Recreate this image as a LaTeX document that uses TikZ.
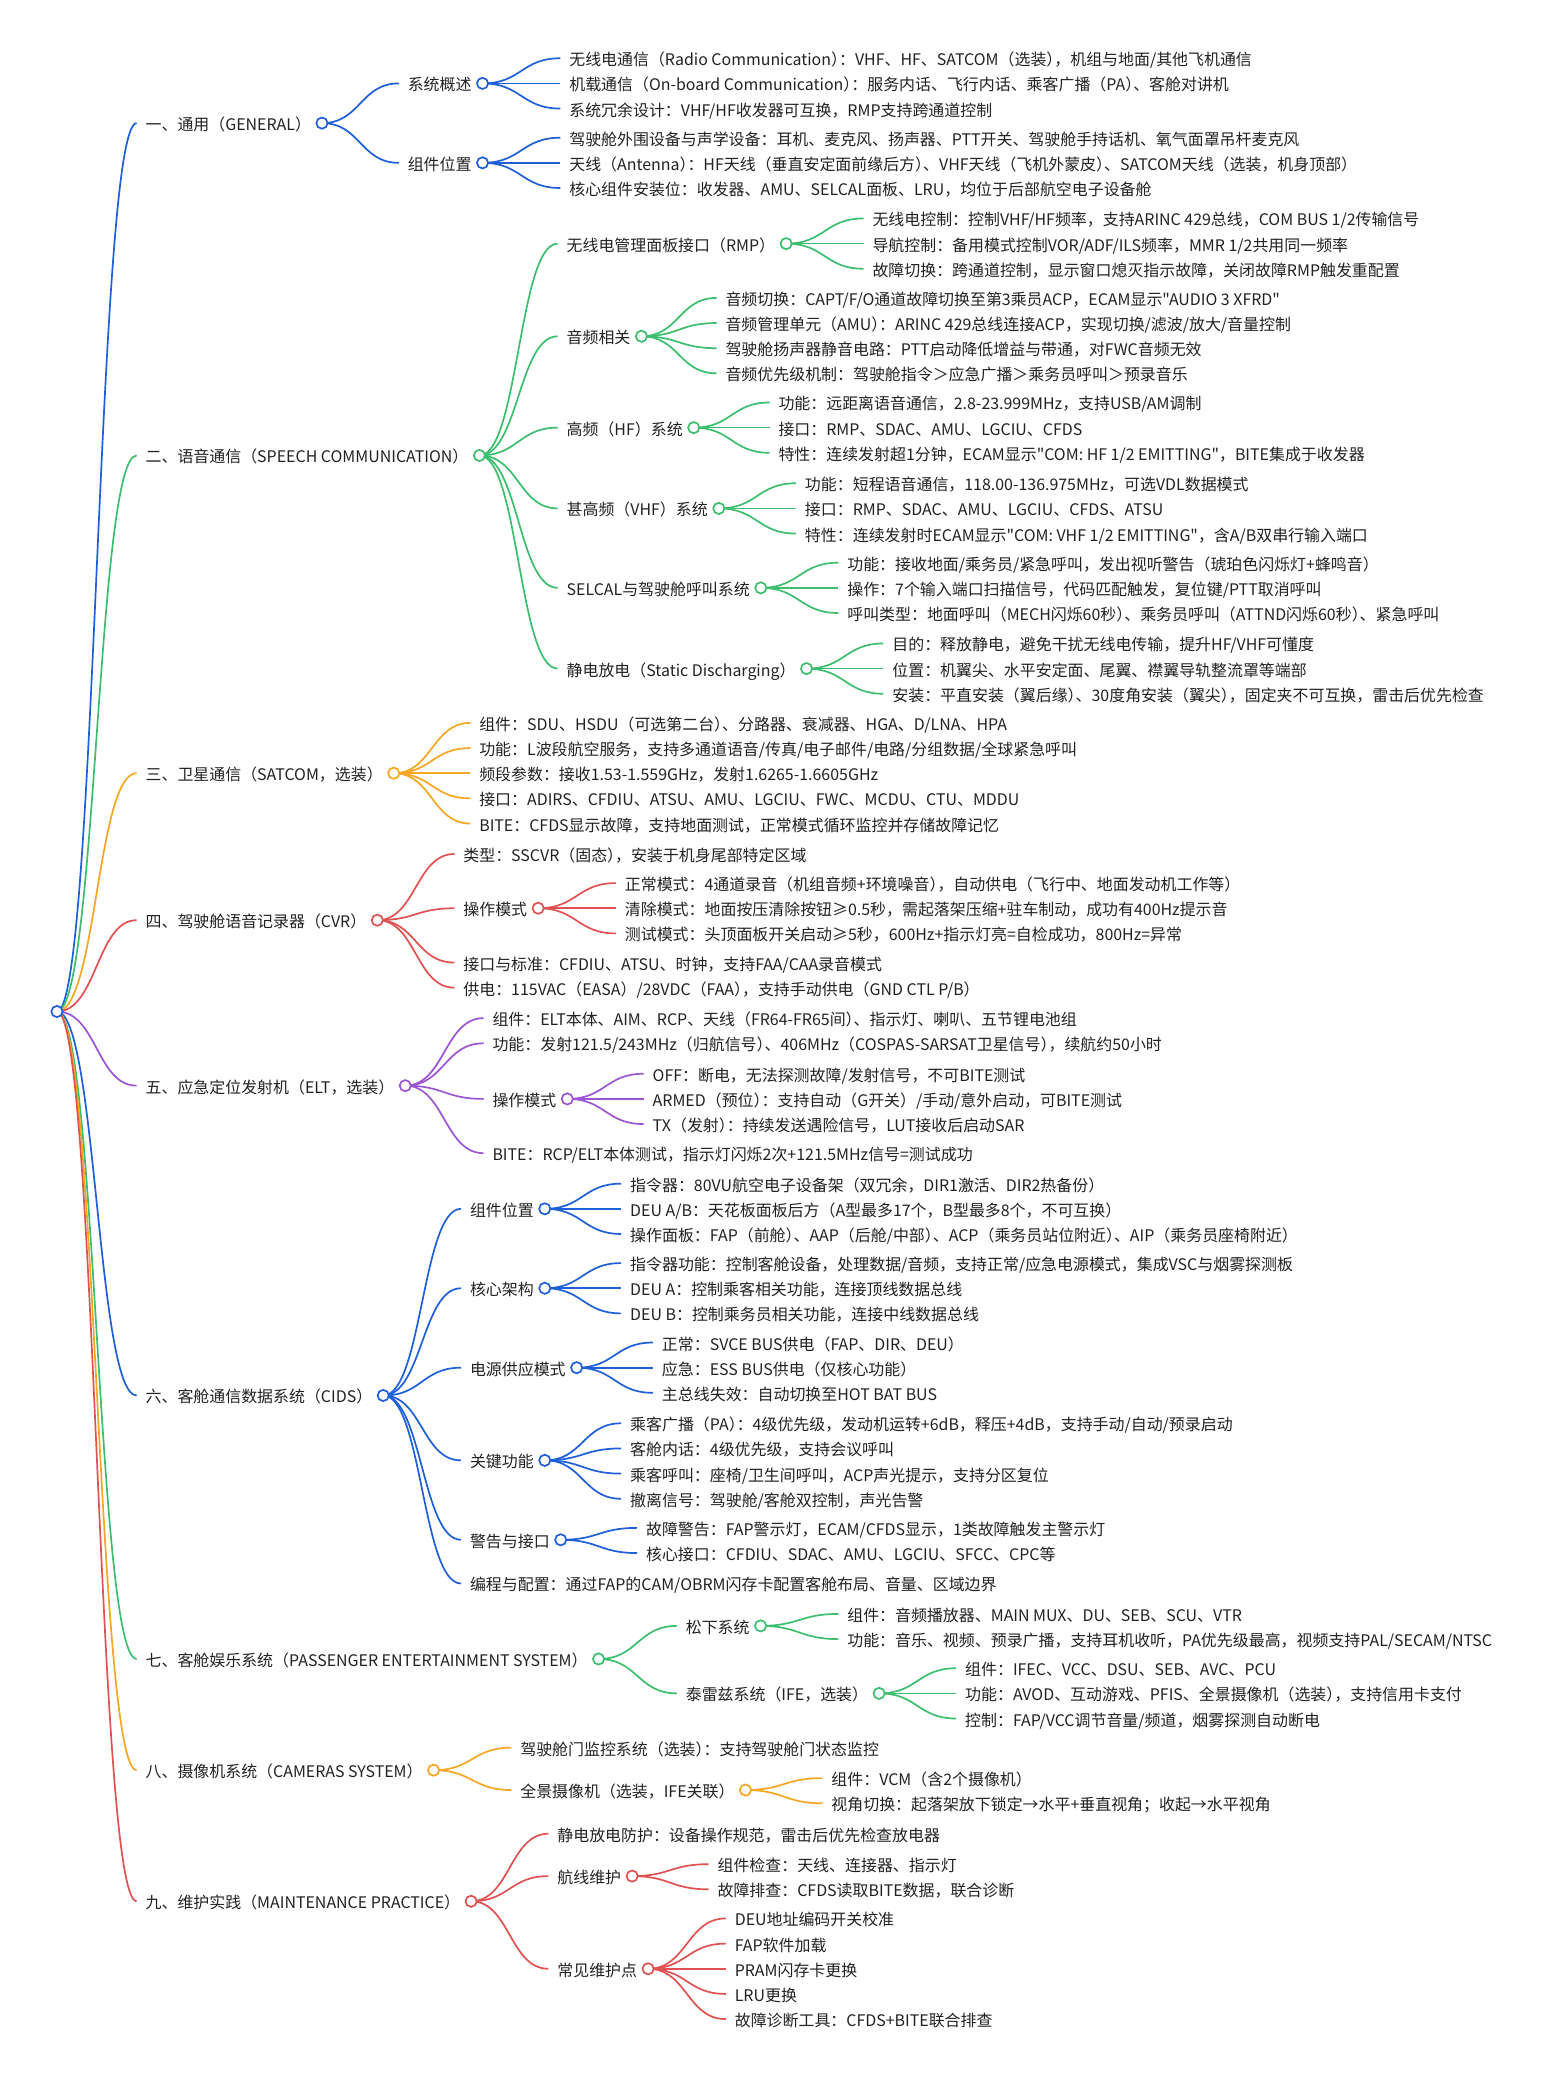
\documentclass[tikz,border=0pt]{standalone}
\usepackage{fontspec}
\setmainfont{Noto Sans CJK SC}[Ligatures=TeXOff]
\usetikzlibrary{calc}
\definecolor{cb}{HTML}{1F5FD8}
\definecolor{cg}{HTML}{3CBE6E}
\definecolor{co}{HTML}{F5A623}
\definecolor{cr}{HTML}{E05252}
\definecolor{cp}{HTML}{9A55D2}
\definecolor{txtc}{HTML}{222222}
\tikzset{
  txt/.style={anchor=west, inner sep=0pt, outer sep=0pt, text=txtc,
    font=\fontsize{7.97pt}{9pt}\selectfont, text height=0.9em, text depth=0.15em},
  knob/.style={circle, fill=white, minimum size=5.6pt, inner sep=0pt, line width=0.85pt},
  lk/.style={line width=0.85pt},
}
\newcommand\rp{\makebox[0.5em][l]{）}}
\newcommand\MLeaf[4]{\node[txt] (#1) at (#2,#3) {#4};}
\newcommand\MInt[4]{\node[txt] (#1) at (#2,#3) {#4};\coordinate (#1o) at ([xshift=5.5pt]#1.east);}
\newcommand\LK[3]{\draw[lk,#1] let \p1=(#2), \p2=([xshift=-4.5pt]#3.west) in
  (\p1) .. controls ({(\x1+\x2)/2},\y1) and ({(\x1+\x2)/2},\y2) .. (\p2);}
\newcommand\LKS[3]{\foreach \cc in {#3} {\LK{#1}{#2o}{\cc}}}
\newcommand\KN[2]{\foreach \cc in {#2} {\node[knob,draw=#1] at (\cc o) {};}}
\begin{document}
\begin{tikzpicture}[x=0.662pt,y=-0.662pt]
\useasboundingbox[fill=white] (0,0) rectangle (1166,1568);
\coordinate (Ro) at (43,764);
% ---------- 1
\MInt{A}{110}{93}{一、通用（GENERAL）}
\MInt{Aa}{308}{63}{系统概述}
\MLeaf{Aa1}{430}{44}{无线电通信（Radio Communication\rp：VHF、HF、SATCOM（选装\rp，机组与地面/其他飞机通信}
\MLeaf{Aa2}{430}{63}{机载通信（On-board Communication\rp：服务内话、飞行内话、乘客广播（PA\rp、客舱对讲机}
\MLeaf{Aa3}{430}{82}{系统冗余设计：VHF/HF收发器可互换，RMP支持跨通道控制}
\MInt{Ab}{308}{123}{组件位置}
\MLeaf{Ab1}{430}{104}{驾驶舱外围设备与声学设备：耳机、麦克风、扬声器、PTT开关、驾驶舱手持话机、氧气面罩吊杆麦克风}
\MLeaf{Ab2}{430}{123}{天线（Antenna\rp：HF天线（垂直安定面前缘后方\rp、VHF天线（飞机外蒙皮\rp、SATCOM天线（选装，机身顶部）}
\MLeaf{Ab3}{430}{142}{核心组件安装位：收发器、AMU、SELCAL面板、LRU，均位于后部航空电子设备舱}
% ---------- 2
\MInt{B}{110}{344}{二、语音通信（SPEECH COMMUNICATION）}
\MInt{Ba}{428}{184}{无线电管理面板接口（RMP）}
\MLeaf{Ba1}{659}{165}{无线电控制：控制VHF/HF频率，支持ARINC 429总线，COM BUS 1/2传输信号}
\MLeaf{Ba2}{659}{184}{导航控制：备用模式控制VOR/ADF/ILS频率，MMR 1/2共用同一频率}
\MLeaf{Ba3}{659}{203}{故障切换：跨通道控制，显示窗口熄灭指示故障，关闭故障RMP触发重配置}
\MInt{Bb}{428}{254}{音频相关}
\MLeaf{Bb1}{548}{225}{音频切换：CAPT/F/O通道故障切换至第3乘员ACP，ECAM显示"AUDIO 3 XFRD"}
\MLeaf{Bb2}{548}{244}{音频管理单元（AMU\rp：ARINC 429总线连接ACP，实现切换/滤波/放大/音量控制}
\MLeaf{Bb3}{548}{263}{驾驶舱扬声器静音电路：PTT启动降低增益与带通，对FWC音频无效}
\MLeaf{Bb4}{548}{282}{音频优先级机制：驾驶舱指令＞应急广播＞乘务员呼叫＞预录音乐}
\MInt{Bc}{428}{323}{高频（HF）系统}
\MLeaf{Bc1}{588}{304}{功能：远距离语音通信，2.8-23.999MHz，支持USB/AM调制}
\MLeaf{Bc2}{588}{323}{接口：RMP、SDAC、AMU、LGCIU、CFDS}
\MLeaf{Bc3}{588}{342}{特性：连续发射超1分钟，ECAM显示"COM: HF 1/2 EMITTING"，BITE集成于收发器}
\MInt{Bd}{428}{384}{甚高频（VHF）系统}
\MLeaf{Bd1}{608}{365}{功能：短程语音通信，118.00-136.975MHz，可选VDL数据模式}
\MLeaf{Bd2}{608}{384}{接口：RMP、SDAC、AMU、LGCIU、CFDS、ATSU}
\MLeaf{Bd3}{608}{403}{特性：连续发射时ECAM显示"COM: VHF 1/2 EMITTING"，含A/B双串行输入端口}
\MInt{Be}{428}{444}{SELCAL与驾驶舱呼叫系统}
\MLeaf{Be1}{640}{425}{功能：接收地面/乘务员/紧急呼叫，发出视听警告（琥珀色闪烁灯+蜂鸣音）}
\MLeaf{Be2}{640}{444}{操作：7个输入端口扫描信号，代码匹配触发，复位键/PTT取消呼叫}
\MLeaf{Be3}{640}{463}{呼叫类型：地面呼叫（MECH闪烁60秒\rp、乘务员呼叫（ATTND闪烁60秒\rp、紧急呼叫}
\MInt{Bf}{428}{505}{静电放电（Static Discharging）}
\MLeaf{Bf1}{674}{486}{目的：释放静电，避免干扰无线电传输，提升HF/VHF可懂度}
\MLeaf{Bf2}{674}{505}{位置：机翼尖、水平安定面、尾翼、襟翼导轨整流罩等端部}
\MLeaf{Bf3}{674}{524}{安装：平直安装（翼后缘\rp、30度角安装（翼尖\rp，固定夹不可互换，雷击后优先检查}
% ---------- 3
\MInt{C}{110}{584}{三、卫星通信（SATCOM，选装）}
\MLeaf{C1}{362}{546}{组件：SDU、HSDU（可选第二台\rp、分路器、衰减器、HGA、D/LNA、HPA}
\MLeaf{C2}{362}{565}{功能：L波段航空服务，支持多通道语音/传真/电子邮件/电路/分组数据/全球紧急呼叫}
\MLeaf{C3}{362}{584}{频段参数：接收1.53-1.559GHz，发射1.6265-1.6605GHz}
\MLeaf{C4}{362}{603}{接口：ADIRS、CFDIU、ATSU、AMU、LGCIU、FWC、MCDU、CTU、MDDU}
\MLeaf{C5}{362}{622}{BITE：CFDS显示故障，支持地面测试，正常模式循环监控并存储故障记忆}
% ---------- 4
\MInt{D}{110}{695}{四、驾驶舱语音记录器（CVR）}
\MLeaf{D1}{350}{645}{类型：SSCVR（固态\rp，安装于机身尾部特定区域}
\MInt{Db}{350}{686}{操作模式}
\MLeaf{Db1}{472}{667}{正常模式：4通道录音（机组音频+环境噪音\rp，自动供电（飞行中、地面发动机工作等）}
\MLeaf{Db2}{472}{686}{清除模式：地面按压清除按钮≥0.5秒，需起落架压缩+驻车制动，成功有400Hz提示音}
\MLeaf{Db3}{472}{705}{测试模式：头顶面板开关启动≥5秒，600Hz+指示灯亮=自检成功，800Hz=异常}
\MLeaf{D3}{350}{727}{接口与标准：CFDIU、ATSU、时钟，支持FAA/CAA录音模式}
\MLeaf{D4}{350}{746}{供电：115VAC（EASA）/28VDC（FAA\rp，支持手动供电（GND CTL P/B）}
% ---------- 5
\MInt{E}{110}{820}{五、应急定位发射机（ELT，选装）}
\MLeaf{E1}{372}{769}{组件：ELT本体、AIM、RCP、天线（FR64-FR65间\rp、指示灯、喇叭、五节锂电池组}
\MLeaf{E2}{372}{788}{功能：发射121.5/243MHz（归航信号\rp、406MHz（COSPAS-SARSAT卫星信号\rp，续航约50小时}
\MInt{Ec}{372}{830}{操作模式}
\MLeaf{Ec1}{493}{811}{OFF：断电，无法探测故障/发射信号，不可BITE测试}
\MLeaf{Ec2}{493}{830}{ARMED（预位\rp：支持自动（G开关）/手动/意外启动，可BITE测试}
\MLeaf{Ec3}{493}{849}{TX（发射\rp：持续发送遇险信号，LUT接收后启动SAR}
\MLeaf{E4}{372}{871}{BITE：RCP/ELT本体测试，指示灯闪烁2次+121.5MHz信号=测试成功}
% ---------- 6
\MInt{F}{110}{1054}{六、客舱通信数据系统（CIDS）}
\MInt{Fa}{355}{913}{组件位置}
\MLeaf{Fa1}{476}{894}{指令器：80VU航空电子设备架（双冗余，DIR1激活、DIR2热备份）}
\MLeaf{Fa2}{476}{913}{DEU A/B：天花板面板后方（A型最多17个，B型最多8个，不可互换）}
\MLeaf{Fa3}{476}{932}{操作面板：FAP（前舱\rp、AAP（后舱/中部\rp、ACP（乘务员站位附近\rp、AIP（乘务员座椅附近）}
\MInt{Fb}{355}{973}{核心架构}
\MLeaf{Fb1}{476}{954}{指令器功能：控制客舱设备，处理数据/音频，支持正常/应急电源模式，集成VSC与烟雾探测板}
\MLeaf{Fb2}{476}{973}{DEU A：控制乘客相关功能，连接顶线数据总线}
\MLeaf{Fb3}{476}{992}{DEU B：控制乘务员相关功能，连接中线数据总线}
\MInt{Fc}{355}{1033}{电源供应模式}
\MLeaf{Fc1}{500}{1014}{正常：SVCE BUS供电（FAP、DIR、DEU）}
\MLeaf{Fc2}{500}{1033}{应急：ESS BUS供电（仅核心功能）}
\MLeaf{Fc3}{500}{1052}{主总线失效：自动切换至HOT BAT BUS}
\MInt{Fd}{355}{1103}{关键功能}
\MLeaf{Fd1}{476}{1075}{乘客广播（PA\rp：4级优先级，发动机运转+6dB，释压+4dB，支持手动/自动/预录启动}
\MLeaf{Fd2}{476}{1094}{客舱内话：4级优先级，支持会议呼叫}
\MLeaf{Fd3}{476}{1113}{乘客呼叫：座椅/卫生间呼叫，ACP声光提示，支持分区复位}
\MLeaf{Fd4}{476}{1132}{撤离信号：驾驶舱/客舱双控制，声光告警}
\MInt{Fe}{355}{1163}{警告与接口}
\MLeaf{Fe1}{488}{1154}{故障警告：FAP警示灯，ECAM/CFDS显示，1类故障触发主警示灯}
\MLeaf{Fe2}{488}{1173}{核心接口：CFDIU、SDAC、AMU、LGCIU、SFCC、CPC等}
\MLeaf{F6}{355}{1196}{编程与配置：通过FAP的CAM/OBRM闪存卡配置客舱布局、音量、区域边界}
% ---------- 7
\MInt{G}{110}{1253}{七、客舱娱乐系统（PASSENGER ENTERTAINMENT SYSTEM）}
\MInt{Ga}{518}{1228}{松下系统}
\MLeaf{Ga1}{640}{1219}{组件：音频播放器、MAIN MUX、DU、SEB、SCU、VTR}
\MLeaf{Ga2}{640}{1238}{功能：音乐、视频、预录广播，支持耳机收听，PA优先级最高，视频支持PAL/SECAM/NTSC}
\MInt{Gb}{518}{1279}{泰雷兹系统（IFE，选装）}
\MLeaf{Gb1}{729}{1260}{组件：IFEC、VCC、DSU、SEB、AVC、PCU}
\MLeaf{Gb2}{729}{1279}{功能：AVOD、互动游戏、PFIS、全景摄像机（选装\rp，支持信用卡支付}
\MLeaf{Gb3}{729}{1298}{控制：FAP/VCC调节音量/频道，烟雾探测自动断电}
% ---------- 8
\MInt{H}{110}{1337}{八、摄像机系统（CAMERAS SYSTEM）}
\MLeaf{H1}{393}{1320}{驾驶舱门监控系统（选装\rp：支持驾驶舱门状态监控}
\MInt{Hb}{393}{1352}{全景摄像机（选装，IFE关联）}
\MLeaf{Hb1}{628}{1343}{组件：VCM（含2个摄像机）}
\MLeaf{Hb2}{628}{1362}{视角切换：起落架放下锁定→水平+垂直视角；收起→水平视角}
% ---------- 9
\MInt{I}{110}{1436}{九、维护实践（MAINTENANCE PRACTICE）}
\MLeaf{I1}{421}{1385}{静电放电防护：设备操作规范，雷击后优先检查放电器}
\MInt{Ib}{421}{1417}{航线维护}
\MLeaf{Ib1}{542}{1408}{组件检查：天线、连接器、指示灯}
\MLeaf{Ib2}{542}{1427}{故障排查：CFDS读取BITE数据，联合诊断}
\MInt{Ic}{421}{1487}{常见维护点}
\MLeaf{Ic1}{555}{1449}{DEU地址编码开关校准}
\MLeaf{Ic2}{555}{1468}{FAP软件加载}
\MLeaf{Ic3}{555}{1487}{PRAM闪存卡更换}
\MLeaf{Ic4}{555}{1506}{LRU更换}
\MLeaf{Ic5}{555}{1525}{故障诊断工具：CFDS+BITE联合排查}
% ---------- links
\LK{cb}{Ro}{A}\LK{cg}{Ro}{B}\LK{co}{Ro}{C}\LK{cr}{Ro}{D}\LK{cp}{Ro}{E}
\LK{cb}{Ro}{F}\LK{cg}{Ro}{G}\LK{co}{Ro}{H}\LK{cr}{Ro}{I}
\LKS{cb}{A}{Aa,Ab}
\LKS{cb}{Aa}{Aa1,Aa2,Aa3}
\LKS{cb}{Ab}{Ab1,Ab2,Ab3}
\LKS{cg}{B}{Ba,Bb,Bc,Bd,Be,Bf}
\LKS{cg}{Ba}{Ba1,Ba2,Ba3}
\LKS{cg}{Bb}{Bb1,Bb2,Bb3,Bb4}
\LKS{cg}{Bc}{Bc1,Bc2,Bc3}
\LKS{cg}{Bd}{Bd1,Bd2,Bd3}
\LKS{cg}{Be}{Be1,Be2,Be3}
\LKS{cg}{Bf}{Bf1,Bf2,Bf3}
\LKS{co}{C}{C1,C2,C3,C4,C5}
\LKS{cr}{D}{D1,Db,D3,D4}
\LKS{cr}{Db}{Db1,Db2,Db3}
\LKS{cp}{E}{E1,E2,Ec,E4}
\LKS{cp}{Ec}{Ec1,Ec2,Ec3}
\LKS{cb}{F}{Fa,Fb,Fc,Fd,Fe,F6}
\LKS{cb}{Fa}{Fa1,Fa2,Fa3}
\LKS{cb}{Fb}{Fb1,Fb2,Fb3}
\LKS{cb}{Fc}{Fc1,Fc2,Fc3}
\LKS{cb}{Fd}{Fd1,Fd2,Fd3,Fd4}
\LKS{cb}{Fe}{Fe1,Fe2}
\LKS{cg}{G}{Ga,Gb}
\LKS{cg}{Ga}{Ga1,Ga2}
\LKS{cg}{Gb}{Gb1,Gb2,Gb3}
\LKS{co}{H}{H1,Hb}
\LKS{co}{Hb}{Hb1,Hb2}
\LKS{cr}{I}{I1,Ib,Ic}
\LKS{cr}{Ib}{Ib1,Ib2}
\LKS{cr}{Ic}{Ic1,Ic2,Ic3,Ic4,Ic5}
% ---------- knobs
\node[knob,draw=cb] at (Ro) {};
\KN{cb}{A,Aa,Ab,F,Fa,Fb,Fc,Fd,Fe}
\KN{cg}{B,Ba,Bb,Bc,Bd,Be,Bf,G,Ga,Gb}
\KN{co}{C,H,Hb}
\KN{cr}{D,Db,I,Ib,Ic}
\KN{cp}{E,Ec}
\end{tikzpicture}
\end{document}
